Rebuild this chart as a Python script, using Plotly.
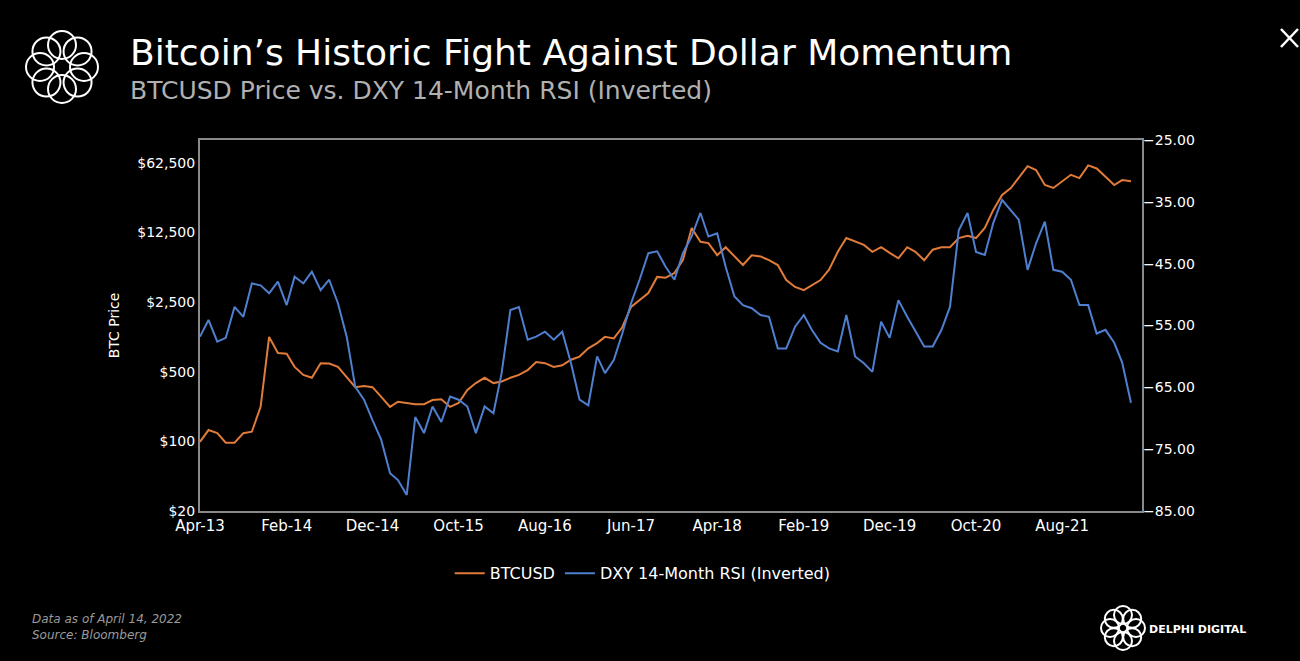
import math
import pandas as pd
import plotly.graph_objects as go

dates = pd.date_range("2013-04-01", periods=109, freq="MS")

btc = [99, 130, 121, 97, 97, 121, 125, 222, 1120, 770, 760, 560, 465, 435, 610, 605, 560, 445, 350, 360,
       350, 280, 222, 250, 243, 236, 236, 260, 265, 222, 243, 328, 385, 435, 385, 400, 435, 465, 520, 625,
       610, 560, 580, 660, 710, 860, 970, 1120, 1080, 1400, 2240, 2650, 3090, 4480, 4400, 4900, 6600, 13900, 10100, 9800,
       7400, 8900, 7200, 5900, 7400, 7200, 6600, 5900, 4170, 3550, 3300, 3700, 4170, 5300, 8000, 11000, 10100, 9400, 8000, 8900,
       7800, 6900, 8900, 8000, 6600, 8400, 8900, 8900, 11000, 11600, 11000, 13900, 21100, 29800, 35000, 45000, 58000, 53000, 37500, 35000,
       41000, 47500, 44000, 59000, 55000, 45000, 37500, 42000, 41000]

dxy_rsi_inv = [-56.8, -54.1, -57.6, -57.0, -52.0, -53.6, -48.2, -48.5, -49.8, -47.9, -51.7, -47.1, -48.2, -46.3, -49.3, -47.6, -51.4, -56.8, -64.9, -67.0,
               -70.3, -73.5, -78.9, -80.0, -82.4, -69.8, -72.4, -68.1, -70.6, -66.5, -67.0, -68.1, -72.4, -68.1, -69.2, -62.7, -52.5, -52.0, -57.3, -56.8,
               -56.0, -57.3, -56.0, -61.1, -67.0, -67.9, -60.0, -62.7, -60.6, -56.3, -51.4, -47.6, -43.3, -43.0, -45.5, -47.6, -43.3, -40.6, -36.8, -40.6,
               -40.1, -45.5, -50.3, -51.7, -52.2, -53.3, -53.6, -58.7, -58.7, -55.2, -53.3, -55.7, -57.8, -58.7, -59.2, -53.3, -60.0, -61.1, -62.5, -54.4,
               -57.0, -50.9, -53.6, -56.0, -58.4, -58.4, -55.7, -52.0, -39.6, -36.8, -43.1, -43.6, -38.4, -34.7, -36.3, -37.9, -46.0, -41.7, -38.2, -46.0,
               -46.3, -47.6, -51.7, -51.7, -56.3, -55.7, -57.8, -61.0, -67.5]

left_ticks = [20, 100, 500, 2500, 12500, 62500]
left_text = ["$20", "$100", "$500", "$2,500", "$12,500", "$62,500"]
right_ticks = [-25, -35, -45, -55, -65, -75, -85]
x_ticks = pd.date_range("2013-04-01", periods=11, freq="10MS")

ORANGE = "#e07b39"
BLUE = "#4f7fcf"
FONT = "DejaVu Sans"

fig = go.Figure()
fig.add_trace(go.Scatter(x=dates, y=btc, name="BTCUSD", mode="lines",
                         line=dict(color=ORANGE, width=2), yaxis="y"))
fig.add_trace(go.Scatter(x=dates, y=dxy_rsi_inv, name="DXY 14-Month RSI (Inverted)", mode="lines",
                         line=dict(color=BLUE, width=2), yaxis="y2"))

# page pixel -> paper helpers (plot area page px 200..1142, 140..511)
def px(x): return (x - 200) / 942
def py(y): return (511 - y) / 371

shapes = []
def ring(cx, cy, R, r, n=8):
    for k in range(n):
        a = 2 * math.pi * k / n
        x0, y0 = cx + R * math.cos(a), cy + R * math.sin(a)
        shapes.append(dict(type="circle", xref="paper", yref="paper",
                           x0=px(x0 - r), x1=px(x0 + r), y0=py(y0 + r), y1=py(y0 - r),
                           line=dict(color="white", width=2)))
ring(62, 67, 22, 14)
ring(1123, 628, 13, 9)
shapes.append(dict(type="line", xref="paper", yref="paper", x0=px(1281), x1=px(1298), y0=py(29), y1=py(47), line=dict(color="white", width=2.5)))
shapes.append(dict(type="line", xref="paper", yref="paper", x0=px(1281), x1=px(1298), y0=py(47), y1=py(29), line=dict(color="white", width=2.5)))

annotations = [
    dict(text="Bitcoin’s Historic Fight Against Dollar Momentum", x=px(128), y=py(52), xref="paper", yref="paper",
         xanchor="left", yanchor="middle", showarrow=False, font=dict(family=FONT, size=36, color="white")),
    dict(text="BTCUSD Price vs. DXY 14-Month RSI (Inverted)", x=px(128), y=py(90), xref="paper", yref="paper",
         xanchor="left", yanchor="middle", showarrow=False, font=dict(family=FONT, size=25, color="#b0b0b0")),
    dict(text="<i>Data as of April 14, 2022<br>Source: Bloomberg</i>", x=px(30), y=py(627), xref="paper", yref="paper",
         xanchor="left", yanchor="middle", align="left", showarrow=False, font=dict(family=FONT, size=12, color="#9a9a9a")),
    dict(text="<b>DELPHI DIGITAL</b>", x=px(1147), y=py(629), xref="paper", yref="paper",
         xanchor="left", yanchor="middle", showarrow=False, font=dict(family=FONT, size=11, color="white")),
]

fig.update_layout(
    width=1300, height=661,
    paper_bgcolor="black", plot_bgcolor="black",
    margin=dict(l=200, r=158, t=140, b=150),
    font=dict(family=FONT, color="white", size=15),
    showlegend=True,
    legend=dict(orientation="h", x=0.47, xanchor="center", y=-0.168, yanchor="middle",
                font=dict(size=16, color="white"), bgcolor="rgba(0,0,0,0)"),
    xaxis=dict(type="date", range=["2013-04-01", "2022-05-10"], tickvals=x_ticks,
               ticktext=[d.strftime("%b-%y") for d in x_ticks], showgrid=False, zeroline=False,
               showline=True, linecolor="#8a8a8a", linewidth=2, mirror=True, ticks="",
               tickfont=dict(size=15, color="white")),
    yaxis=dict(type="log", range=[math.log10(20), 5.026], tickvals=left_ticks, ticktext=left_text,
               showgrid=False, zeroline=False, showline=True, linecolor="#8a8a8a", linewidth=2, mirror=True,
               ticks="", title=dict(text="BTC Price", font=dict(size=14, color="white"), standoff=14),
               tickfont=dict(size=14, color="white")),
    yaxis2=dict(overlaying="y", side="right", range=[-85, -25], tickvals=right_ticks, tickformat=".2f",
                showgrid=False, zeroline=False, ticks="", tickfont=dict(size=14, color="white")),
    shapes=shapes, annotations=annotations,
)

fig.write_html("out.html", config={"displayModeBar": False},
               post_script="document.body.style.margin='0';document.body.style.background='black';")
